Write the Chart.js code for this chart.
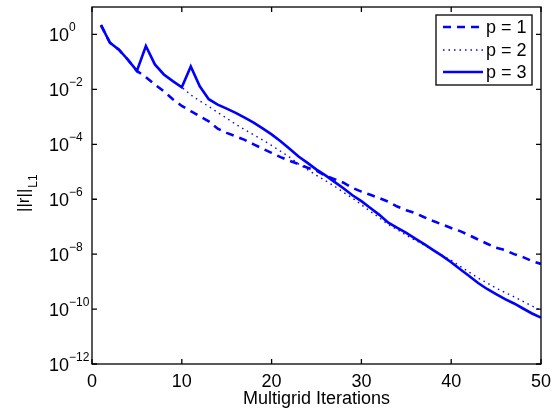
<!DOCTYPE html>
<html>
<head>
<meta charset="utf-8">
<script src="https://cdn.jsdelivr.net/npm/chart.js@4.4.1/dist/chart.umd.min.js"></script>
<style>
  body { margin: 0; background: #fff; }
  canvas { display: block; }
</style>
</head>
<body>
<canvas id="residualChart" width="556" height="416"></canvas>
<script>
// multigrid iteration number
const iterations = [1, 2, 3, 4, 5, 6, 7, 8, 9, 10,
  11, 12, 13, 14, 15, 16, 17, 18, 19, 20,
  21, 22, 23, 24, 25, 26, 27, 28, 29, 30,
  31, 32, 33, 34, 35, 36, 37, 38, 39, 40,
  41, 42, 43, 44, 45, 46, 47, 48, 49, 50];

// L1 norm of the residual, one list per polynomial order
const residualP1 = [2.2, 0.5, 0.28, 0.12, 0.047, 0.028, 0.015, 8.5e-3, 4.4e-3, 2.5e-3,
  1.6e-3, 1.05e-3, 6.9e-4, 3.7e-4, 2.6e-4, 1.95e-4, 1.45e-4, 1.0e-4, 6.9e-5, 4.9e-5,
  3.4e-5, 2.5e-5, 1.9e-5, 1.4e-5, 1.1e-5, 7.1e-6, 5.4e-6, 4.0e-6, 2.6e-6, 1.9e-6,
  1.45e-6, 1.1e-6, 8.1e-7, 5.4e-7, 4.0e-7, 3.1e-7, 2.2e-7, 1.6e-7, 1.2e-7, 8.9e-8,
  6.9e-8, 4.9e-8, 3.4e-8, 2.4e-8, 1.7e-8, 1.4e-8, 1.0e-8, 7.8e-9, 5.6e-9, 4.4e-9];

const residualP2 = [2.2, 0.5, 0.28, 0.12, 0.047, 0.38, 0.081, 0.035, 0.020, 0.012,
  6.3e-3, 3.8e-3, 2.4e-3, 1.45e-3, 8.9e-4, 5.4e-4, 3.4e-4, 2.2e-4, 1.45e-4, 9.1e-5,
  5.6e-5, 3.4e-5, 1.95e-5, 1.2e-5, 7.4e-6, 4.7e-6, 3.0e-6, 1.8e-6, 1.1e-6, 6.3e-7,
  3.6e-7, 2.1e-7, 1.2e-7, 7.8e-8, 4.9e-8, 3.2e-8, 2.1e-8, 1.4e-8, 9.1e-9, 6.0e-9,
  3.6e-9, 2.2e-9, 1.35e-9, 8.9e-10, 5.8e-10, 4.0e-10, 2.8e-10, 1.9e-10, 1.3e-10, 8.9e-11];

const residualP3 = [2.2, 0.5, 0.28, 0.12, 0.047, 0.38, 0.081, 0.035, 0.020, 0.012,
  0.068, 0.013, 4.4e-3, 2.8e-3, 2.0e-3, 1.4e-3, 9.3e-4, 6.2e-4, 3.8e-4, 2.3e-4,
  1.3e-4, 6.9e-5, 3.6e-5, 2.1e-5, 1.2e-5, 7.4e-6, 4.3e-6, 2.5e-6, 1.4e-6, 8.5e-7,
  4.8e-7, 2.7e-7, 1.4e-7, 9.1e-8, 5.9e-8, 3.7e-8, 2.3e-8, 1.4e-8, 8.7e-9, 5.1e-9,
  2.8e-9, 1.6e-9, 8.9e-10, 5.4e-10, 3.5e-10, 2.3e-10, 1.6e-10, 1.05e-10, 6.9e-11, 4.9e-11];

const seriesNames = ['p = 1', 'p = 2', 'p = 3'];

// tick labels
const xTicks = [0, 10, 20, 30, 40, 50];
const yTickExponents = [0, -2, -4, -6, -8, -10, -12];

const FONT = '"Liberation Sans", Arial, Helvetica, sans-serif';
const BLUE = '#0000ff';

function toPoints(values) {
  return iterations.map((it, i) => ({ x: it, y: values[i] }));
}

// MATLAB style box: frame, inward ticks on all sides, 10^n labels, titles, legend
const matlabAxes = {
  id: 'matlabAxes',
  afterDatasetsDraw(chart) {
    const ctx = chart.ctx;
    const area = chart.chartArea;
    const xs = chart.scales.x;
    const ys = chart.scales.y;
    const tickLen = 5;

    ctx.save();
    ctx.strokeStyle = '#000';
    ctx.lineWidth = 1.3;
    ctx.strokeRect(area.left, area.top, area.right - area.left, area.bottom - area.top);

    ctx.fillStyle = '#000';
    ctx.font = '18px ' + FONT;
    ctx.textAlign = 'center';
    ctx.textBaseline = 'middle';
    ctx.beginPath();
    xTicks.forEach(v => {
      const px = xs.getPixelForValue(v);
      ctx.moveTo(px, area.bottom); ctx.lineTo(px, area.bottom - tickLen);
      ctx.moveTo(px, area.top); ctx.lineTo(px, area.top + tickLen);
      ctx.fillText(String(v), px, area.bottom + 18);
    });
    yTickExponents.forEach(e => {
      const py = ys.getPixelForValue(Math.pow(10, e));
      ctx.moveTo(area.left, py); ctx.lineTo(area.left + tickLen, py);
      ctx.moveTo(area.right, py); ctx.lineTo(area.right - tickLen, py);
    });
    ctx.stroke();

    // y tick labels as 10 with a superscript exponent
    ctx.textBaseline = 'alphabetic';
    yTickExponents.forEach(e => {
      const py = ys.getPixelForValue(Math.pow(10, e));
      ctx.font = '18px ' + FONT;
      ctx.textAlign = 'right';
      ctx.fillText('10', 69, py + 7);
      ctx.font = '12px ' + FONT;
      ctx.textAlign = 'left';
      ctx.fillText(String(e).replace('-', '\u2212'), 69, py - 3);
    });

    // axis titles
    ctx.font = '18px ' + FONT;
    ctx.textAlign = 'center';
    ctx.textBaseline = 'middle';
    ctx.fillText('Multigrid Iterations', (area.left + area.right) / 2, 399);

    ctx.save();
    ctx.translate(29, 212);
    ctx.rotate(-Math.PI / 2);
    ctx.textAlign = 'left';
    ctx.textBaseline = 'alphabetic';
    ctx.font = '17px ' + FONT;
    ctx.fillText('||r||', 0, 0);
    const w = ctx.measureText('||r||').width;
    ctx.font = '12px ' + FONT;
    ctx.fillText('L1', w + 1, 7.5);
    ctx.restore();

    // legend
    const box = { left: 436, top: 15, right: 532, bottom: 85 };
    ctx.fillStyle = '#fff';
    ctx.fillRect(box.left, box.top, box.right - box.left, box.bottom - box.top);
    ctx.lineWidth = 1.3;
    ctx.strokeStyle = '#000';
    ctx.strokeRect(box.left, box.top, box.right - box.left, box.bottom - box.top);
    const rows = [27, 50, 72];
    chart.data.datasets.forEach((ds, i) => {
      const y = rows[i];
      ctx.beginPath();
      ctx.strokeStyle = ds.borderColor;
      ctx.lineWidth = ds.borderWidth;
      ctx.setLineDash(ds.borderDash || []);
      ctx.moveTo(443, y); ctx.lineTo(483, y);
      ctx.stroke();
      ctx.setLineDash([]);
      ctx.fillStyle = '#000';
      ctx.font = '18px ' + FONT;
      ctx.textAlign = 'left';
      ctx.textBaseline = 'middle';
      ctx.fillText(ds.label, 486, y + 1);
    });
    ctx.restore();
  }
};

const ctx = document.getElementById('residualChart').getContext('2d');
new Chart(ctx, {
  type: 'line',
  data: {
    datasets: [{
      label: seriesNames[0],
      data: toPoints(residualP1),
      borderColor: BLUE,
      borderWidth: 2.6,
      borderDash: [8, 6],
      order: 2
    }, {
      label: seriesNames[1],
      data: toPoints(residualP2),
      borderColor: BLUE,
      borderWidth: 1.4,
      borderDash: [1.5, 4],
      order: 1
    }, {
      label: seriesNames[2],
      data: toPoints(residualP3),
      borderColor: BLUE,
      borderWidth: 2.6,
      order: 0
    }]
  },
  options: {
    responsive: false,
    animation: false,
    layout: { padding: { left: 92, right: 15, top: 7, bottom: 52 } },
    elements: {
      point: { radius: 0 },
      line: { tension: 0, fill: false, borderCapStyle: 'butt' }
    },
    plugins: {
      legend: { display: false },
      tooltip: { enabled: false }
    },
    scales: {
      x: { type: 'linear', min: 0, max: 50, display: false },
      y: {
        type: 'logarithmic',
        min: 1e-12,
        max: 10,
        display: false,
        afterBuildTicks: scale => {
          scale.ticks = yTickExponents.map(e => ({ value: Math.pow(10, e) }));
        }
      }
    }
  },
  plugins: [matlabAxes]
});
</script>
</body>
</html>
